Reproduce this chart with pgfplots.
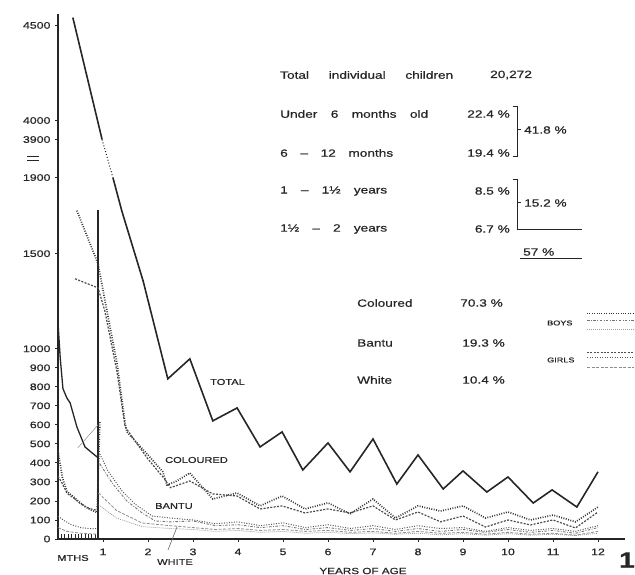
\documentclass[border=0pt]{standalone}
\usepackage{pgfplots}
\pgfplotsset{compat=1.18}
\usepackage{fontspec}
\setmainfont{Liberation Sans}[FakeStretch=1.3, FakeBold=0.6]
\definecolor{ink}{gray}{0.15}
\tikzset{
  totst/.style={line width=1.6pt, ink},
  colA/.style={line width=1.7pt, black!80, dash pattern=on 0.9pt off 1.5pt},
  colB/.style={line width=1.2pt, black!70, dash pattern=on 2pt off 1.4pt},
  banA/.style={line width=1.0pt, black!65, dash pattern=on 1pt off 1.5pt},
  banB/.style={line width=0.9pt, black!55, dash pattern=on 2.5pt off 1.5pt on 0.8pt off 1.5pt},
  whiA/.style={line width=0.8pt, black!45, dash pattern=on 3pt off 1.5pt},
  whiB/.style={line width=0.7pt, black!40, dash pattern=on 1pt off 1pt},
  lab/.style={font=\fontsize{10.5}{12}\selectfont, text=ink, inner sep=0pt},
}
\begin{document}
\begin{tikzpicture}
\useasboundingbox (0,0) rectangle (635pt,575pt);
\begin{axis}[
  at={(58pt,36pt)}, anchor=south west, scale only axis,
  width=567pt, height=525pt,
  xmin=0, xmax=12.6, ymin=0, ymax=2760,
  axis lines=left, axis line style={-, line width=1.4pt, ink},
  clip=false,
  tick align=outside, major tick length=3pt,
  tick style={line width=0.9pt, ink},
  xtick={1,2,...,12},
  ytick={0,100,200,300,400,500,600,700,800,900,1000,1500,1900,2100,2200,2700},
  yticklabels={0,100,200,300,400,500,600,700,800,900,1000,1500,1900,3900,4000,4500},
  extra x ticks={0.075,0.15,0.225,0.3,0.375,0.45,0.525,0.6,0.675,0.75,0.825},
  extra x tick labels={},
  extra x tick style={tick align=inside, major tick length=5pt, tick style={line width=0.7pt}},
  ticklabel style={font=\fontsize{9.5}{10}\selectfont, text=ink},
  /pgf/number format/assume math mode=true,
  xticklabel style={yshift=-3pt},
  yticklabel style={xshift=-1pt},
]
% ---- Total (yearly, half-year steps) ----
\addplot[totst] coordinates {(0.33,2741) (0.98,2100)};
\addplot[ink, line width=1pt, dash pattern=on 1pt off 2pt] coordinates {(0.98,2100) (1.22,1900)};
\addplot[totst] coordinates {
 (1.22,1900) (1.42,1723) (1.89,1358) (2.44,842) (2.93,947) (3.44,621) (3.98,689)
 (4.49,484) (4.98,563) (5.44,363) (6.0,505) (6.49,353) (7.0,526) (7.53,289)
 (8.0,442) (8.56,263) (9.0,358) (9.53,247) (10.0,326) (10.56,189) (10.98,258)
 (11.53,168) (12.0,353)};
% ---- Total (monthly, first year) ----
\addplot[ink, line width=1.3pt] coordinates {
 (0,1137) (0.05,950) (0.11,790) (0.2,740) (0.27,715) (0.42,589) (0.6,484)
 (0.76,452) (0.87,431) (0.89,430)};
\addplot[ink, line width=1.3pt] coordinates {(0.89,0) (0.89,1730)};
\addplot[black!45, line width=0.5pt] coordinates {(0.44,479) (0.89,600)};
% ---- Coloured ----
\addplot[colA] coordinates {
 (0.42,1726) (0.89,1447) (1.04,1258) (1.31,926) (1.49,610) (1.53,563) (2.0,442)
 (2.33,353) (2.42,284) (2.6,300) (2.93,347) (3.44,210) (3.98,242) (4.49,174)
 (4.98,226) (5.49,158) (6.0,190) (6.49,132) (7.0,210) (7.5,110) (8.0,174)
 (8.5,147) (9.0,174) (9.5,110) (10.0,142) (10.5,100) (11.0,126) (11.5,90) (12.0,168)};
\addplot[colB] coordinates {
 (0.38,1368) (0.89,1320) (1.04,1200) (1.31,880) (1.49,590) (2.0,420) (2.35,321)
 (2.5,270) (2.93,305) (3.44,237) (3.98,226) (4.49,158) (4.98,174) (5.49,137)
 (6.0,158) (6.49,137) (7.0,174) (7.5,100) (8.0,142) (8.5,90) (9.0,121) (9.5,63)
 (10.0,100) (10.5,74) (11.0,100) (11.5,58) (12.0,142)};
\addplot[colA] coordinates {
 (0,463) (0.1,320) (0.2,250) (0.3,230) (0.45,200) (0.6,170) (0.75,150) (0.87,140) (0.93,620)};
\addplot[colB] coordinates {
 (0,330) (0.1,290) (0.2,240) (0.35,215) (0.5,185) (0.7,160) (0.87,150)};
% ---- Bantu ----
\addplot[banA] coordinates {
 (0.93,447) (1.11,358) (1.42,253) (1.71,184) (2.09,121) (2.5,110) (3.0,100)
 (3.5,80) (4.0,90) (4.5,70) (5.0,85) (5.5,60) (6.0,75) (6.5,55) (7.0,70)
 (7.5,50) (8.0,70) (8.5,55) (9.0,60) (9.5,40) (10.0,60) (10.5,45) (11.0,55)
 (11.5,40) (12.0,70)};
\addplot[banB] coordinates {
 (0.93,395) (1.22,289) (1.53,200) (1.87,137) (2.16,95) (2.5,90) (3.0,95)
 (3.5,70) (4.0,75) (4.5,60) (5.0,70) (5.5,50) (6.0,60) (6.5,45) (7.0,55)
 (7.5,40) (8.0,55) (8.5,40) (9.0,50) (9.5,35) (10.0,50) (10.5,35) (11.0,45)
 (11.5,30) (12.0,60)};
\addplot[banA] coordinates {
 (0,120) (0.15,95) (0.3,75) (0.5,60) (0.7,55) (0.87,55)};
% ---- White ----
\addplot[whiA] coordinates {
 (0.9,242) (1.3,150) (1.87,84) (2.5,70) (3.0,60) (3.5,50) (4.0,55) (4.5,45)
 (5.0,50) (5.5,40) (6.0,45) (6.5,35) (7.0,40) (7.5,30) (8.0,40) (8.5,30)
 (9.0,35) (9.5,25) (10.0,35) (10.5,25) (11.0,30) (11.5,20) (12.0,40)};
\addplot[whiB] coordinates {
 (0.9,180) (1.3,110) (1.87,65) (2.5,55) (3.0,50) (3.5,40) (4.0,45) (4.5,35)
 (5.0,40) (5.5,30) (6.0,35) (6.5,28) (7.0,32) (7.5,25) (8.0,30) (8.5,22)
 (9.0,28) (9.5,20) (10.0,28) (10.5,20) (11.0,25) (11.5,18) (12.0,30)};
\addplot[whiA] coordinates {(0,60) (0.2,40) (0.5,30) (0.87,25)};
\end{axis}
% ---- axis break mark ----
\draw[ink, line width=0.9pt] (27pt,419pt) -- (39pt,419pt) (27pt,415pt) -- (39pt,415pt);
% ---- labels on chart ----
\node[lab, anchor=west, font=\fontsize{8.5}{10}\selectfont] at (210pt,193pt) {TOTAL};
\node[lab, anchor=west, font=\fontsize{8.5}{10}\selectfont] at (165pt,115pt) {COLOURED};
\node[lab, anchor=west, font=\fontsize{8.5}{10}\selectfont] at (155pt,69pt) {BANTU};
\node[lab, anchor=west, font=\fontsize{8.5}{10}\selectfont] at (157pt,13pt) {WHITE};
\draw[black!60, line width=0.6pt] (168pt,25pt) -- (177pt,48pt);
\node[lab, font=\fontsize{8.5}{10}\selectfont] at (73pt,17pt) {MTHS};
\node[lab, font=\fontsize{9}{10}\selectfont] at (363pt,4pt) {YEARS OF AGE};
\node[lab, font=\fontsize{22}{24}\selectfont\bfseries] at (627pt,15pt) {1};
% ---- text block ----
\node[lab, anchor=west] at (280pt,500pt) {\hbox to 173pt{Total\hfil individual\hfil children}};
\node[lab, anchor=west] at (490pt,500pt) {20,272};
\node[lab, anchor=west] at (280pt,461pt) {\hbox to 148pt{Under\hfil 6\hfil months\hfil old}};
\node[lab, anchor=east] at (510pt,461pt) {22.4 \%};
\node[lab, anchor=west] at (280pt,422pt) {\hbox to 113pt{6\hfil --\hfil 12\hfil months}};
\node[lab, anchor=east] at (510pt,422pt) {19.4 \%};
\draw[ink, line width=1pt] (513pt,468pt) -- (517pt,468pt) -- (517pt,418pt) -- (513pt,418pt);
\draw[ink, line width=1pt] (517pt,445pt) -- (521pt,445pt);
\node[lab, anchor=west] at (524pt,445pt) {41.8 \%};
\node[lab, anchor=west] at (280pt,384pt) {\hbox to 107pt{1\hfil --\hfil 1½\hfil years}};
\node[lab, anchor=east] at (510pt,384pt) {8.5 \%};
\node[lab, anchor=west] at (280pt,346pt) {\hbox to 107pt{1½\hfil --\hfil 2\hfil years}};
\node[lab, anchor=east] at (510pt,346pt) {6.7 \%};
\draw[ink, line width=1pt] (513pt,395pt) -- (517pt,395pt) -- (517pt,345pt) -- (582pt,345pt);
\draw[ink, line width=1pt] (517pt,372pt) -- (521pt,372pt);
\node[lab, anchor=west] at (524pt,372pt) {15.2 \%};
\node[lab, anchor=west] at (523pt,323pt) {57 \%};
\draw[ink, line width=1pt] (520pt,316pt) -- (582pt,316pt);
\node[lab, anchor=west] at (357pt,272pt) {Coloured};
\node[lab, anchor=east] at (503pt,272pt) {70.3 \%};
\node[lab, anchor=west] at (357pt,232pt) {Bantu};
\node[lab, anchor=east] at (505pt,232pt) {19.3 \%};
\node[lab, anchor=west] at (357pt,195pt) {White};
\node[lab, anchor=east] at (505pt,195pt) {10.4 \%};
% ---- legend ----
\node[lab, anchor=west, font=\fontsize{7}{8}\selectfont] at (547pt,252pt) {BOYS};
\draw[colA, line width=0.9pt] (587pt,262pt) -- (634pt,262pt);
\draw[banB, line width=0.6pt] (587pt,255pt) -- (634pt,255pt);
\draw[whiB] (587pt,246pt) -- (634pt,246pt);
\node[lab, anchor=west, font=\fontsize{7}{8}\selectfont] at (547pt,215pt) {GIRLS};
\draw[colB, line width=0.9pt] (587pt,223pt) -- (634pt,223pt);
\draw[banA, line width=0.6pt] (587pt,218pt) -- (634pt,218pt);
\draw[whiA] (587pt,208pt) -- (634pt,208pt);
\end{tikzpicture}
\end{document}
